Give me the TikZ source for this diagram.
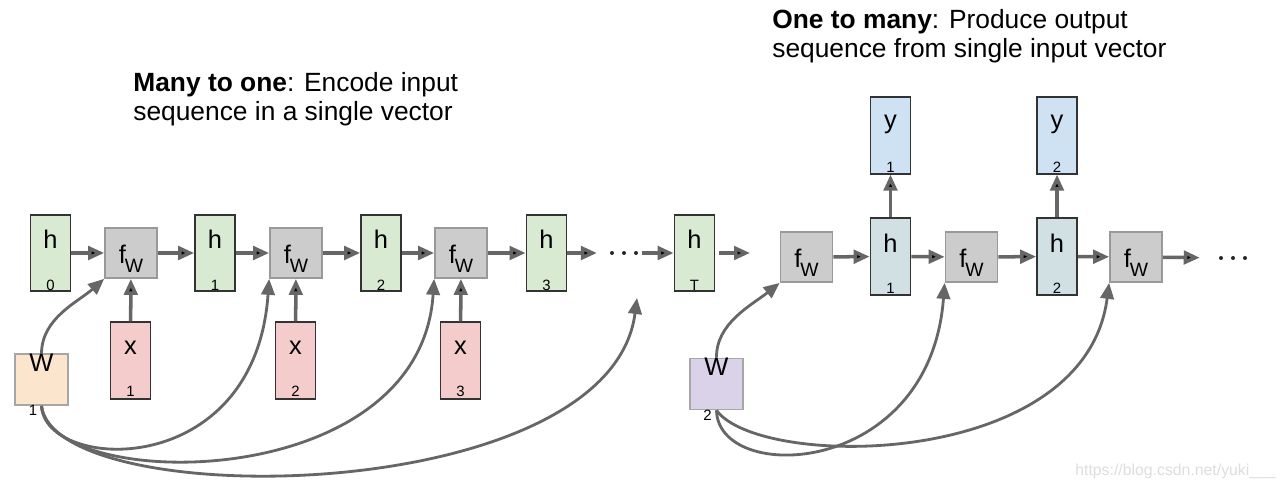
\documentclass[tikz,border=0pt]{standalone}
\usepackage{fontspec}
\setmainfont{Liberation Sans}
\usepackage{xcolor}
\usetikzlibrary{arrows.meta, calc}

\definecolor{hgreen}{RGB}{217,234,211}
\definecolor{xpink}{RGB}{244,204,204}
\definecolor{yblue}{RGB}{207,226,243}
\definecolor{hteal}{RGB}{208,224,227}
\definecolor{worange}{RGB}{252,229,205}
\definecolor{wpurple}{RGB}{217,210,233}
\definecolor{linegray}{RGB}{102,102,102}

\newcommand{\lettersize}{\fontsize{14.5}{14.5}\selectfont}
\newcommand{\idxsize}{\fontsize{8.5}{8.5}\selectfont}
\newcommand{\titlesize}{\fontsize{15}{16.5}\selectfont}
\newcommand{\fw}{f\kern-0.6pt\raisebox{-5pt}{\fontsize{11}{11}\selectfont W}}

\begin{document}
\begin{tikzpicture}[x=0.02cm, y=-0.02cm, >={Triangle[length=0.32cm, width=0.27cm]}]
		\tikzstyle{box} = [draw=black!80, line width=1pt, inner sep=0pt, minimum width=0.8cm, minimum height=1.53cm]
		\tikzstyle{hcell} = [box, fill=hgreen]
		\tikzstyle{xcell} = [box, fill=xpink]
		\tikzstyle{ycell} = [box, fill=yblue]
		\tikzstyle{scell} = [box, fill=hteal]
		\tikzstyle{fcell} = [draw=black!40, line width=1pt, fill=black!20, inner sep=0pt, minimum width=1.04cm, minimum height=1cm, text height=12.5pt, text depth=0pt, font=\lettersize]
		\tikzstyle{wcell} = [draw=black!35, line width=1pt, inner sep=0pt, minimum width=1.06cm, minimum height=1.02cm]
		\tikzstyle{ltr} = [font=\lettersize, inner sep=0pt, anchor=center]
		\tikzstyle{idx} = [font=\idxsize, inner sep=0pt, anchor=center]
		\tikzstyle{dots} = [draw=none, inner sep=0pt, minimum width=0.72cm, minimum height=0.2cm]
		\tikzstyle{flow} = [draw=linegray, line width=2pt, ->]
		\tikzstyle{tie} = [draw=linegray, line width=1.6pt, ->]
		\tikzstyle{title} = [anchor=north west, align=left, inner sep=0pt, font=\titlesize]

		\useasboundingbox[fill=white] (0,0) rectangle (1284,489);

		% many to one
		\node[title] at (133,72) (t1) {\textbf{Many to one}: Encode input\\sequence in a single vector};
		\node[hcell, label={[ltr,yshift=-0.5cm]90:h}, label={[idx,yshift=0.14cm]-90:0}] at (50.5,253) (h0) {};
		\node[fcell] at (131,253) (f1) {\fw};
		\node[hcell, label={[ltr,yshift=-0.5cm]90:h}, label={[idx,yshift=0.14cm]-90:1}] at (215,253) (h1) {};
		\node[fcell] at (296,253) (f2) {\fw};
		\node[hcell, label={[ltr,yshift=-0.5cm]90:h}, label={[idx,yshift=0.14cm]-90:2}] at (381,253) (h2) {};
		\node[fcell] at (461,253) (f3) {\fw};
		\node[hcell, label={[ltr,yshift=-0.5cm]90:h}, label={[idx,yshift=0.14cm]-90:3}] at (546.5,253) (h3) {};
		\node[dots] at (624,253) (d1) {};
		\node[hcell, label={[ltr,yshift=-0.5cm]90:h}, label={[idx,yshift=0.14cm]-90:T}] at (694.5,253) (hT) {};
		\coordinate (tend) at (750,253);

		\node[xcell, label={[ltr,yshift=-0.52cm]90:x}, label={[idx,yshift=0.16cm]-90:1}] at (130.5,360.5) (x1) {};
		\node[xcell, label={[ltr,yshift=-0.52cm]90:x}, label={[idx,yshift=0.16cm]-90:2}] at (295.5,360.5) (x2) {};
		\node[xcell, label={[ltr,yshift=-0.52cm]90:x}, label={[idx,yshift=0.16cm]-90:3}] at (460.5,360.5) (x3) {};
		\node[wcell, fill=worange, label={[ltr,yshift=-0.2cm]90:W}, label={[idx,yshift=-0.09cm,xshift=-0.17cm]-90:1}] at (41.5,379.5) (W1) {};
		\coordinate (wend) at (637,298);

		% one to many
		\node[title] at (772,9) (t2) {\textbf{One to many}: Produce output\\sequence from single input vector};
		\node[fcell] at (806.5,257) (f4) {\fw};
		\node[scell, label={[ltr,yshift=-0.51cm]90:h}, label={[idx,yshift=0.14cm]-90:1}] at (890.5,256.5) (s1) {};
		\node[fcell] at (971.5,257) (f5) {\fw};
		\node[scell, label={[ltr,yshift=-0.51cm]90:h}, label={[idx,yshift=0.14cm]-90:2}] at (1057,256.5) (s2) {};
		\node[fcell] at (1136,257) (f6) {\fw};
		\node[dots] at (1233,258) (d2) {};
		\node[ycell, label={[ltr,yshift=-0.56cm]90:y}, label={[idx,yshift=0.14cm]-90:1}] at (890.5,135.5) (y1) {};
		\node[ycell, label={[ltr,yshift=-0.56cm]90:y}, label={[idx,yshift=0.14cm]-90:2}] at (1057,135.5) (y2) {};
		\node[wcell, fill=wpurple, label={[ltr,yshift=-0.19cm]90:W}, label={[idx,yshift=-0.1cm,xshift=-0.18cm]-90:2}] at (716.5,384) (W2) {};

		\node[anchor=west, inner sep=0pt, font=\fontsize{9}{9}\selectfont, text=black!13] at (1075,471) (wm) {https://blog.csdn.net/yuki\_\_\_};

		\foreach \d in {d1, d2}
		\foreach \i in {-12, 0, 12}
		\fill[black!85] ($(\d)+(\i,0)$) circle (2);

		\path[flow]
		(h0) edge (f1)
		(f1) edge (h1)
		(h1) edge (f2)
		(f2) edge (h2)
		(h2) edge (f3)
		(f3) edge (h3)
		(h3) edge [shorten >=5pt] (d1)
		(d1) edge (hT)
		(hT) edge [shorten <=2.3pt] (tend)
		(x1) edge (f1)
		(x2) edge (f2)
		(x3) edge (f3)
		(f4) edge (s1)
		(s1) edge (f5)
		(f5) edge (s2)
		(s2) edge (f6)
		(f6) edge [shorten >=8.5pt] (d2)
		(s1) edge (y1)
		(s2) edge (y2);

		\draw[tie] (W1.north) .. controls (42,318) and (78,302) .. (f1.south west);
		\draw[tie] (W1.south) .. controls (45,472) and (255,482) .. (f2.south west);
		\draw[tie] (W1.south) .. controls (48,492) and (420,497) .. (f3.south west);
		\draw[tie] (W1.south) .. controls (55,514) and (610,508) .. (wend);
		\draw[tie] (W2.north) .. controls (716,323) and (752,305) .. (f4.south west);
		\draw[tie] (W2.south) .. controls (718,485) and (930,478) .. (f5.south west);
		\draw[tie] (W2.south) .. controls (760,470) and (1085,470) .. (f6.south west);
	\end{tikzpicture}
\end{document}
